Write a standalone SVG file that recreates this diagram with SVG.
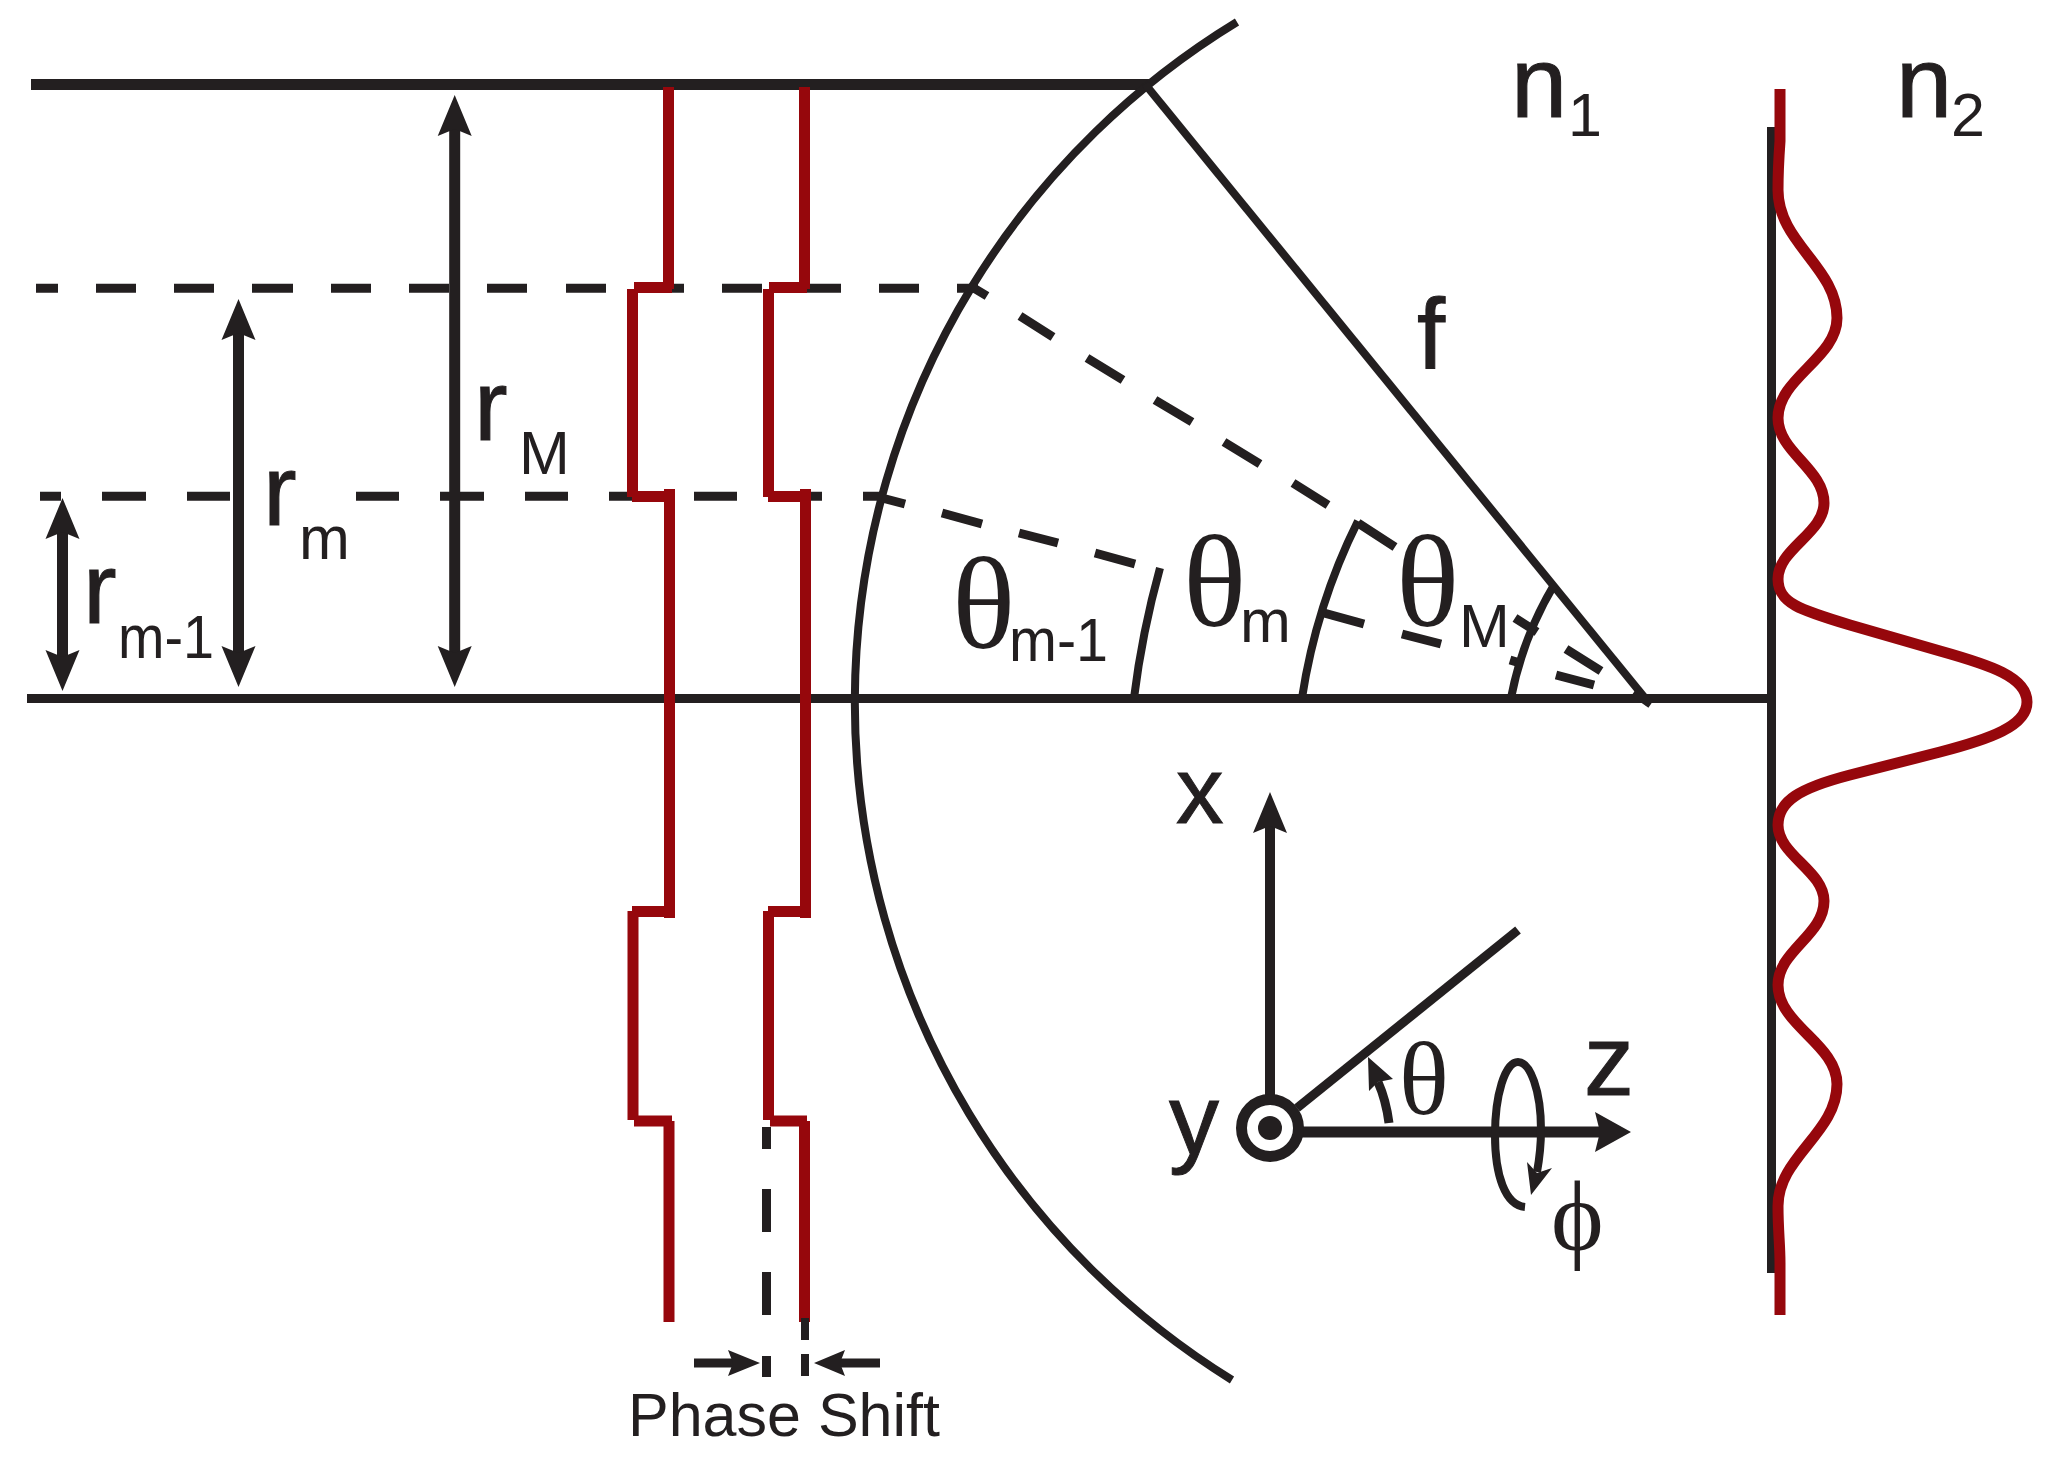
<svg xmlns="http://www.w3.org/2000/svg" xmlns:xlink="http://www.w3.org/1999/xlink" width="2060" height="1467" viewBox="0 0 2060 1467">
<style>
.k{fill:none;stroke:#231f20;stroke-linecap:butt}
.r{fill:none;stroke:#96070c;stroke-width:11;stroke-linecap:butt}
.h{fill:#231f20;stroke:none}
text{fill:#231f20;font-family:"Liberation Sans",Arial,sans-serif}
.g{font-family:"Liberation Serif","Times New Roman",serif}
.b{font-size:101px;stroke:#231f20;stroke-width:1}
.s{font-size:61px}
.t{font-size:132px}
</style>
<defs>
<path id="ah" d="M0,0 L17,41 L0,34 L-17,41 Z"/>
</defs>
<rect width="2060" height="1467" fill="#fff"/>
<g id="connectors">
<path class="k" stroke-width="11" d="M31,84.5 H1150"/>
<path class="k" stroke-width="9" d="M27,698.5 H1770"/>
<path class="k" stroke-width="9" d="M1771.5,127 V1273"/>
<path id="lens" class="k" stroke-width="8" d="M1237,22 A797,797 0 0 0 1232,1380"/>
<path id="focal" class="k" stroke-width="8" d="M1145,84 L1649,703"/>
<path id="dash-upper" class="k" stroke-width="9" d="M36,288.3H58M96,288.3H136M174,288.3H214M252,288.3H293M331,288.3H371M409,288.3H449M487,288.3H527M566,288.3H606M672,288.3H684M722,288.3H762M807,288.3H841M879,288.3H919M957,288.3H978"/>
<path id="dash-lower" class="k" stroke-width="9" d="M40,496.3H61M102,496.3H146M187,496.3H230M356,496.3H399M440,496.3H484M525,496.3H568M609,496.3H633M694,496.3H737M810,496.3H822M863,496.3H883"/>
<path id="dash-diag-m" class="k" stroke-width="9" d="M972,287L987,296M1020,316L1053,337M1087,358L1123,380M1155,400L1192,422M1224,442L1260,464M1293,483L1328,505M1358,523L1395,547M1515,618L1537,632M1566,649L1601,671M1634,692L1651,704"/>
<path id="dash-diag-m1" class="k" stroke-width="9" d="M882,498L905,504M942,513L982,524M1019,533L1058,543M1095,553L1135,564M1324,613L1364,624M1402,634L1441,644M1510,660L1520,663M1556,675L1594,685"/>
<path id="arc-m1" class="k" stroke-width="8" d="M1134,698 A900,900 0 0 1 1160,568"/>
<path id="arc-m" class="k" stroke-width="8" d="M1302,698 A600,600 0 0 1 1358,521"/>
<path id="arc-M" class="k" stroke-width="8" d="M1511,698 A350,350 0 0 1 1554,585"/>
<path class="k" stroke-width="11" d="M454.7,125 V660"/>
<path class="k" stroke-width="11" d="M238.5,330 V655"/>
<path class="k" stroke-width="11" d="M62.5,530 V658"/>
<use xlink:href="#ah" href="#ah" class="h" transform="translate(454.7,95)"/>
<use xlink:href="#ah" href="#ah" class="h" transform="translate(454.7,687) scale(1,-1)"/>
<use xlink:href="#ah" href="#ah" class="h" transform="translate(238.5,299)"/>
<use xlink:href="#ah" href="#ah" class="h" transform="translate(238.5,687) scale(1,-1)"/>
<use xlink:href="#ah" href="#ah" class="h" transform="translate(62.5,498)"/>
<use xlink:href="#ah" href="#ah" class="h" transform="translate(62.5,691) scale(1,-1)"/>
</g>
<g id="phase-fronts">
<path id="front-1" class="r" d="M668.5,87V289M634,287.5H672M632.5,289V497M632,496.5H667M669.5,489V918M632,911.5H664M633,911V1120M634,1121H672M669,1121V1322"/>
<path id="front-2" class="r" d="M804.5,87V289M769,287.5H807M768.5,289V497M768,496.5H803M805.5,489V918M768,911.5H800M768.5,911V1120M770,1121H807M804.5,1121V1322"/>
</g>
<g id="phase-shift">
<path class="k" stroke-width="9" d="M766.5,1127V1149M766.5,1189V1232M766.5,1272V1315M766.5,1356V1377"/>
<path class="k" stroke-width="8" d="M805,1318V1340M805,1354V1376"/>
<path class="k" stroke-width="9" d="M694,1363H735M880,1363H838"/>
<path class="h" d="M760,1363L728,1350L733,1363L728,1376ZM814,1363L845,1350L840,1363L845,1376Z"/>
<text x="628" y="1436" font-size="60.5" textLength="312" lengthAdjust="spacingAndGlyphs">Phase Shift</text>
</g>
<g id="profile">
<path class="r" d="M1780,89 L1780,141 C1779,155 1778,170 1778,190 C1778,243 1837,267 1837,318 C1837,358 1778,378 1778,418 C1778,452 1824,469 1824,503 C1824,533 1778,549 1778,579 C1778,603 1800,610 1850,625 L1940,651 C1990,665 2027,677 2027,702 C2027,726 1990,739 1940,752 L1850,775 C1800,788 1778,801 1778,825 C1778,855 1824,871 1824,901 C1824,935 1778,951 1778,985 C1778,1025 1837,1044 1837,1084 C1837,1133 1778,1157 1778,1206 C1778,1230 1780,1245 1780,1263 L1780,1315"/>
</g>
<g id="axes">
<path class="k" stroke-width="10" d="M1270,826V1100"/>
<path class="k" stroke-width="11" d="M1300,1132H1600"/>
<path class="k" stroke-width="9" d="M1297,1108L1518,930"/>
<use xlink:href="#ah" href="#ah" class="h" transform="translate(1270,792)"/>
<path class="h" d="M1631,1132L1595,1112L1600,1132L1595,1152Z"/>
<path class="k" stroke-width="9" d="M1389,1123Q1386,1100 1378,1082"/>
<path class="h" d="M1368,1057L1369,1091L1378,1082L1393,1079Z"/>
<path class="k" stroke-width="8" d="M1537,1172C1541,1150 1541,1140 1541,1130C1541,1090 1530,1062 1518,1062C1505,1062 1495,1095 1495,1135C1495,1175 1505,1205 1525,1207"/>
<path class="h" d="M1531,1195L1527,1162L1537,1173L1552,1168Z"/>
<circle id="origin-ring" cx="1270" cy="1128" r="28.5" fill="#fff" stroke="#231f20" stroke-width="11"/>
<circle id="origin-dot" cx="1270" cy="1128" r="12" fill="#231f20"/>
</g>
<g id="labels">
<text class="b" x="1511" y="117">n</text>
<text class="s" x="1568" y="136">1</text>
<text class="b" x="1896" y="117">n</text>
<text class="s" x="1951" y="136">2</text>
<text class="b" x="1417" y="369">f</text>
<text class="b" x="474" y="440">r</text>
<text class="s" x="519" y="474">M</text>
<text class="b" x="263" y="525">r</text>
<text class="s" x="299" y="559">m</text>
<text class="b" x="83" y="623">r</text>
<text class="s" x="118" y="658" textLength="96" lengthAdjust="spacingAndGlyphs">m-1</text>
<text class="g t" x="952" y="648">θ</text>
<text class="s" x="1009" y="661" textLength="99" lengthAdjust="spacingAndGlyphs">m-1</text>
<text class="g t" x="1183" y="626">θ</text>
<text class="s" x="1240" y="642">m</text>
<text class="g t" x="1396" y="626">θ</text>
<text class="s" x="1459" y="647">M</text>
<text class="b" x="1176" y="823" font-size="95" style="font-size:95px">x</text>
<text class="b" x="1169" y="1154" style="font-size:100px">y</text>
<text class="b" x="1584" y="1095" style="font-size:100px">z</text>
<text class="g" x="1399" y="1114" font-size="104">θ</text>
<text class="g" x="1551" y="1250" font-size="100">ϕ</text>
</g>
</svg>
